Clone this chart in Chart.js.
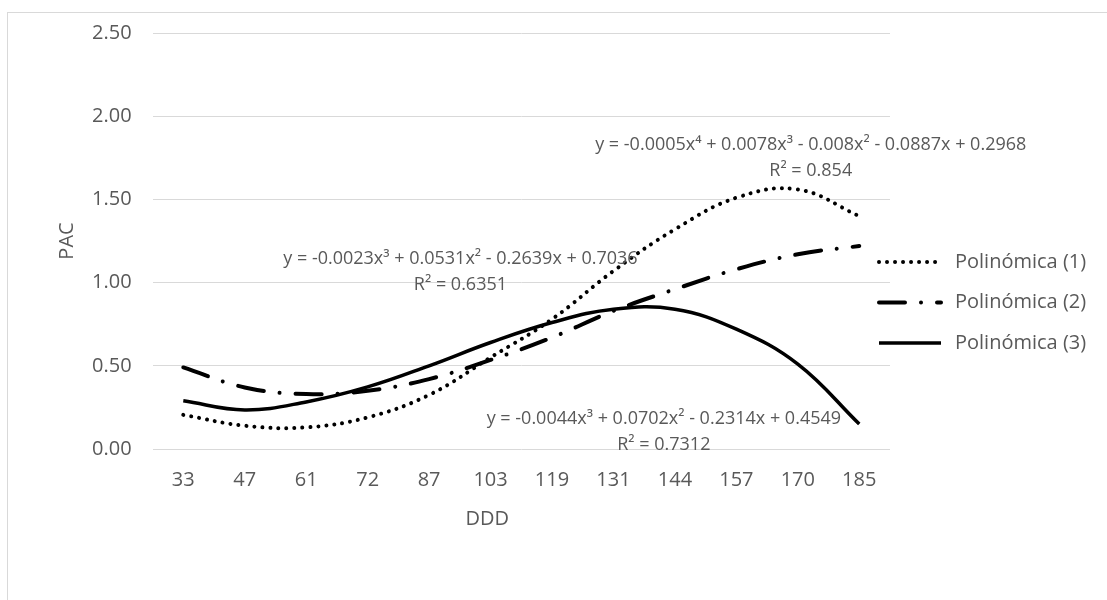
<!DOCTYPE html>
<html>
<head>
<meta charset="utf-8">
<script src="https://cdn.jsdelivr.net/npm/chart.js@4"></script>
<style>
  html, body { margin: 0; padding: 0; background: #fff; }
  #chart { display: block; }
</style>
</head>
<body>
<canvas id="chart" width="1107" height="600"></canvas>
<script>
const labels = ['33', '47', '61', '72', '87', '103', '119', '131', '144', '157', '170', '185'];

const poly1 = [0.205, 0.14, 0.13, 0.19, 0.325, 0.55, 0.78, 1.07, 1.32, 1.51, 1.56, 1.40];
const poly2 = [0.49, 0.37, 0.33, 0.35, 0.42, 0.535, 0.67, 0.83, 0.96, 1.08, 1.17, 1.22];
const poly3 = [0.29, 0.235, 0.283, 0.373, 0.50, 0.64, 0.76, 0.84, 0.84, 0.72, 0.51, 0.15];

const seriesNames = ['Polinómica (1)', 'Polinómica (2)', 'Polinómica (3)'];

const equations = [
    ['y = -0.0005x⁴ + 0.0078x³ - 0.008x² - 0.0887x + 0.2968', 'R² = 0.854'],
    ['y = -0.0023x³ + 0.0531x² - 0.2639x + 0.7036', 'R² = 0.6351'],
    ['y = -0.0044x³ + 0.0702x² - 0.2314x + 0.4549', 'R² = 0.7312']
];
// where each equation sits, as (category index, PAC)
const eqAnchors = [[10.21, 1.83], [4.51, 1.14], [7.82, 0.18]];

const textColor = '#595959';
const gridColor = '#d9d9d9';
const fontFamily = "'Open Sans', sans-serif";

// frame, equations, x title and legend
const extras = {
    id: 'extras',
    beforeDraw(chart) {
        const ctx = chart.ctx;
        ctx.save();
        ctx.strokeStyle = gridColor;
        ctx.lineWidth = 1;
        ctx.strokeRect(7.5, 12.5, 1300, 800);
        ctx.restore();
    },
    afterDraw(chart) {
        const ctx = chart.ctx;
        const xs = chart.scales.x;
        const ys = chart.scales.y;
        const area = chart.chartArea;
        ctx.save();
        ctx.fillStyle = textColor;
        ctx.textAlign = 'center';
        ctx.textBaseline = 'middle';
        ctx.font = "18px " + fontFamily;
        equations.forEach((lines, i) => {
            const px = xs.getPixelForValue(eqAnchors[i][0]);
            const py = ys.getPixelForValue(eqAnchors[i][1]);
            lines.forEach((t, j) => ctx.fillText(t, px, py + j * 26));
        });

        ctx.font = "20px " + fontFamily;
        ctx.fillText('DDD', area.left + (area.right - area.left) * 0.454, area.bottom + 70);

        // legend
        ctx.textAlign = 'left';
        chart.data.datasets.forEach((ds, i) => {
            const y = 262 + i * 40.5;
            ctx.save();
            ctx.strokeStyle = ds.borderColor;
            ctx.lineWidth = ds.borderWidth;
            ctx.lineCap = ds.borderCapStyle || 'butt';
            ctx.setLineDash(ds.borderDash || []);
            ctx.beginPath();
            ctx.moveTo(area.right - 11, y);
            ctx.lineTo(area.right + 51, y);
            ctx.stroke();
            ctx.restore();
            ctx.fillText(ds.label, area.right + 65, y);
        });
        ctx.restore();
    }
};

const chart = new Chart(document.getElementById('chart'), {
    type: 'line',
    data: {
        labels: labels,
        datasets: [
            {
                label: seriesNames[0],
                data: poly1,
                borderColor: '#000',
                borderWidth: 4,
                borderDash: [0.01, 8],
                borderCapStyle: 'round',
                tension: 0.4
            },
            {
                label: seriesNames[1],
                data: poly2,
                borderColor: '#000',
                borderWidth: 4,
                borderDash: [26, 16, 0.01, 16],
                borderCapStyle: 'round',
                tension: 0.4
            },
            {
                label: seriesNames[2],
                data: poly3,
                borderColor: '#000',
                borderWidth: 3.5,
                tension: 0.4
            }
        ]
    },
    options: {
        responsive: false,
        animation: false,
        layout: {
            padding: { left: 55, right: 217, top: 32, bottom: 97 }
        },
        elements: {
            point: { radius: 0 }
        },
        plugins: {
            legend: { display: false },
            tooltip: { enabled: false }
        },
        scales: {
            x: {
                offset: true,
                grid: { display: false },
                border: { display: false },
                ticks: {
                    color: textColor,
                    font: { family: fontFamily, size: 20 },
                    padding: 11,
                    maxRotation: 0,
                    autoSkip: false
                }
            },
            y: {
                min: 0,
                max: 2.5,
                border: { display: false },
                grid: { color: gridColor, lineWidth: 1, drawTicks: false },
                ticks: {
                    stepSize: 0.5,
                    color: textColor,
                    font: { family: fontFamily, size: 20 },
                    padding: 21,
                    callback: (v) => v.toFixed(2)
                },
                title: {
                    display: true,
                    text: 'PAC',
                    color: textColor,
                    font: { family: fontFamily, size: 20 },
                    padding: { top: 0, bottom: -8 }
                }
            }
        }
    },
    plugins: [extras]
});
</script>
</body>
</html>
